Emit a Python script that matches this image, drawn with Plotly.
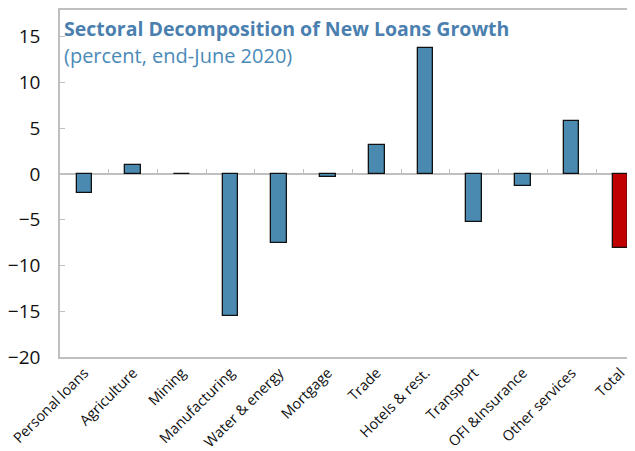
import plotly.graph_objects as go

categories = ["Personal loans", "Agriculture", "Mining", "Manufacturing", "Water & energy",
              "Mortgage", "Trade", "Hotels & rest.", "Transport", "OFI &Insurance",
              "Other services", "Total"]
values = [-2.1, 1.0, 0.0, -15.5, -7.6, -0.3, 3.2, 13.8, -5.3, -1.3, 5.8, -8.1]
colors = ["#4A8AB0"] * 11 + ["#C00000"]
y_ticks = [-20, -15, -10, -5, 0, 5, 10, 15]

ymin, ymax = -20, 17.9
zero_pos = (0 - ymin) / (ymax - ymin)

fig = go.Figure()
fig.add_trace(go.Bar(x=list(range(len(categories))), y=values, width=0.32,
                     marker=dict(color=colors, line=dict(color="#111111", width=1.3)),
                     showlegend=False))
fig.add_trace(go.Scatter(x=[0, 11], y=[0, 0], xaxis="x2", mode="lines",
                         line=dict(width=0), hoverinfo="skip", showlegend=False))

font_family = "'Open Sans', sans-serif"
fig.update_layout(
    width=627, height=443,
    margin=dict(l=52, r=0, t=2, b=94),
    plot_bgcolor="white", paper_bgcolor="white",
    font=dict(family=font_family, color="#111111"),
    bargap=0,
    xaxis=dict(range=[-0.5, 11.3], tickmode="array",
               tickvals=list(range(len(categories))), ticktext=categories,
               tickangle=-45, tickfont=dict(size=14.5, family=font_family),
               showline=True, linecolor="#BFBFBF", linewidth=1.5, mirror=True,
               ticks="", showgrid=False, zeroline=False, automargin=False),
    xaxis2=dict(range=[-0.5, 11.3], overlaying="x", anchor="free", position=zero_pos,
                side="top", tickmode="array",
                tickvals=[i + 0.5 for i in range(len(categories))],
                showticklabels=False, ticks="outside", ticklen=5, tickcolor="#BFBFBF",
                tickwidth=1.2, showline=False, layer="above traces",
                showgrid=False, zeroline=False, automargin=False),
    yaxis=dict(range=[ymin, ymax], tickvals=y_ticks, ticks="inside", ticklen=5,
               tickcolor="#BFBFBF", tickfont=dict(size=19, family=font_family),
               showline=True, linecolor="#BFBFBF", linewidth=1.5, mirror=True,
               showgrid=False, zeroline=True, zerolinecolor="#BFBFBF", zerolinewidth=1.5,
               layer="above traces", ticklabelstandoff=14, automargin=False),
)
fig.add_annotation(xref="paper", yref="paper", x=0.004, y=1.0, xanchor="left", yanchor="top",
                   yshift=-3,
                   text="<b>Sectoral Decomposition of New Loans Growth</b>", showarrow=False,
                   font=dict(size=19.5, color="#4A7FAF", family=font_family))
fig.add_annotation(xref="paper", yref="paper", x=0.004, y=1.0, xanchor="left", yanchor="top",
                   yshift=-30,
                   text="(percent, end-June 2020)", showarrow=False,
                   font=dict(size=20, color="#4A8AB8", family=font_family))
fig.write_html("out.html")
